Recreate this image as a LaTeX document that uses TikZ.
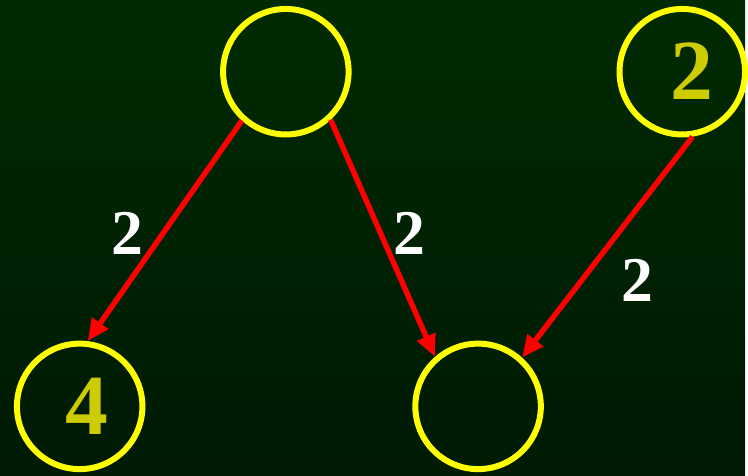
\documentclass[tikz,border=0pt]{standalone}
\usepackage{fontspec}
\setmainfont{Liberation Serif}
\usetikzlibrary{arrows.meta}

\definecolor{bgtop}{RGB}{0,42,2}
\definecolor{bgbottom}{RGB}{0,26,4}
\definecolor{ring}{RGB}{255,255,0}
\definecolor{weight}{RGB}{204,204,0}

\begin{document}
\begin{tikzpicture}[x=1pt, y=1pt,
		vertex/.style={circle, draw=ring, line width=6pt, minimum size=126pt, inner sep=0pt},
		edge/.style={draw=red, line width=5.5pt, -{Triangle[length=22pt, width=19pt]}},
		cost/.style={text=white, font=\bfseries\fontsize{64}{64}\selectfont},
		dist/.style={text=weight, font=\bfseries\fontsize{86}{86}\selectfont}]
			\shade[top color=bgtop, bottom color=bgbottom] (0,0) rectangle (748,477);
			\node[vertex] (top) at (287, 405) {};
			\node[vertex] (right) at (685, 405) {};
			\node[vertex] (left) at (80, 69) {};
			\node[vertex] (mid) at (480, 69) {};
			\node[dist] (dright) at (695, 406) {2};
			\node[dist] (dleft) at (87, 69) {4};
			\draw[edge] (top.-132) -- (left.83);
			\draw[edge] (top.-47) -- (mid.131);
			\draw[edge] (right.-81) -- (mid.48);
			\node[cost] (c1) at (128, 243) {2};
			\node[cost] (c2) at (411, 243) {2};
			\node[cost] (c3) at (640, 195) {2};
		\end{tikzpicture}
\end{document}
